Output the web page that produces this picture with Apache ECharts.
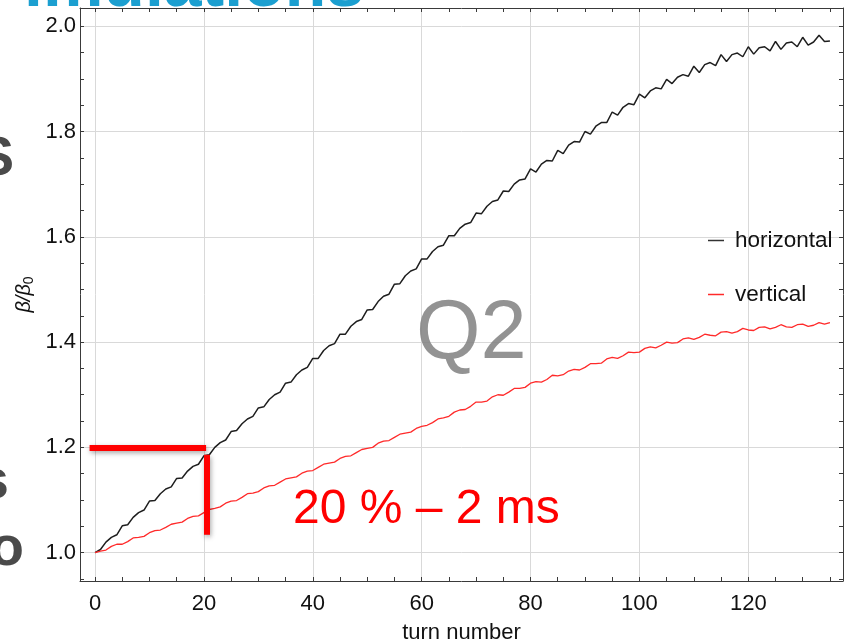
<!DOCTYPE html>
<html lang="en">
<head>
<meta charset="UTF-8">
<title>beta beat</title>
<script src="https://cdn.jsdelivr.net/npm/echarts@6/dist/echarts.min.js"></script>
<style>
  html, body { margin: 0; padding: 0; background: #fff; }
  #chart { width: 844px; height: 644px; }
</style>
</head>
<body>
<div id="chart"></div>
<script>
// beta/beta0 per turn, turn = index (0..135)
var horizontal = [
  1.000, 1.006, 1.020, 1.029, 1.034, 1.051, 1.053, 1.067, 1.076, 1.081,
  1.098, 1.099, 1.112, 1.121, 1.125, 1.141, 1.142, 1.155, 1.164, 1.168,
  1.184, 1.186, 1.200, 1.209, 1.214, 1.230, 1.232, 1.245, 1.254, 1.259,
  1.275, 1.277, 1.291, 1.300, 1.305, 1.322, 1.324, 1.338, 1.347, 1.352,
  1.369, 1.369, 1.384, 1.393, 1.397, 1.415, 1.415, 1.430, 1.439, 1.443,
  1.461, 1.462, 1.477, 1.487, 1.491, 1.510, 1.511, 1.526, 1.535, 1.539,
  1.558, 1.558, 1.572, 1.581, 1.584, 1.602, 1.602, 1.616, 1.624, 1.627,
  1.645, 1.644, 1.658, 1.667, 1.670, 1.687, 1.686, 1.700, 1.708, 1.710,
  1.729, 1.723, 1.738, 1.745, 1.744, 1.764, 1.758, 1.774, 1.781, 1.780,
  1.800, 1.795, 1.810, 1.817, 1.817, 1.837, 1.831, 1.846, 1.853, 1.851,
  1.871, 1.864, 1.877, 1.883, 1.881, 1.899, 1.891, 1.903, 1.908, 1.905,
  1.924, 1.912, 1.927, 1.931, 1.925, 1.946, 1.933, 1.946, 1.949, 1.942,
  1.961, 1.947, 1.959, 1.961, 1.953, 1.971, 1.956, 1.968, 1.970, 1.961,
  1.979, 1.964, 1.970, 1.983, 1.971, 1.972
];
var vertical = [
  1.000, 1.003, 1.005, 1.012, 1.016, 1.016, 1.021, 1.028, 1.029, 1.031,
  1.038, 1.042, 1.043, 1.048, 1.054, 1.056, 1.058, 1.065, 1.069, 1.070,
  1.076, 1.082, 1.084, 1.087, 1.094, 1.098, 1.099, 1.105, 1.112, 1.113,
  1.116, 1.123, 1.127, 1.128, 1.134, 1.140, 1.142, 1.144, 1.151, 1.155,
  1.156, 1.162, 1.168, 1.170, 1.172, 1.179, 1.183, 1.184, 1.190, 1.196,
  1.198, 1.200, 1.208, 1.212, 1.213, 1.219, 1.225, 1.227, 1.229, 1.236,
  1.240, 1.242, 1.247, 1.254, 1.256, 1.259, 1.267, 1.271, 1.272, 1.278,
  1.286, 1.286, 1.288, 1.296, 1.300, 1.299, 1.305, 1.312, 1.312, 1.314,
  1.322, 1.325, 1.324, 1.329, 1.337, 1.336, 1.338, 1.345, 1.348, 1.347,
  1.352, 1.359, 1.359, 1.360, 1.368, 1.371, 1.369, 1.374, 1.381, 1.380,
  1.381, 1.388, 1.391, 1.389, 1.394, 1.400, 1.398, 1.399, 1.406, 1.408,
  1.405, 1.409, 1.415, 1.413, 1.412, 1.419, 1.420, 1.417, 1.420, 1.426,
  1.423, 1.422, 1.428, 1.429, 1.425, 1.428, 1.433, 1.429, 1.428, 1.433,
  1.434, 1.430, 1.432, 1.437, 1.434, 1.437
];

var xMajor = [0, 20, 40, 60, 80, 100, 120];
var xMinor = [0, 5, 10, 15, 20, 25, 30, 35, 40, 45, 50, 55, 60, 65, 70, 75, 80, 85, 90, 95, 100, 105, 110, 115, 120, 125, 130, 135];
var yMajor = [1.0, 1.2, 1.4, 1.6, 1.8, 2.0];
var yMinor = [0.95, 1.0, 1.05, 1.1, 1.15, 1.2, 1.25, 1.3, 1.35, 1.4, 1.45, 1.5, 1.55, 1.6, 1.65, 1.7, 1.75, 1.8, 1.85, 1.9, 1.95, 2.0];

// red bracket marking 20 % at turn 20 (data coords)
var bracketH = [[-1.0, 1.2], [20.4, 1.2]];
var bracketV = [[20.5, 1.186], [20.5, 1.034]];

var FONT = '"Liberation Sans", Arial, sans-serif';
var chart = echarts.init(document.getElementById('chart'));

function toPairs(arr) {
  return arr.map(function (v, i) { return [i, v]; });
}

var xBase = { type: 'value', min: -2.76, max: 137.4, gridIndex: 0 };
var yBase = { type: 'value', min: 0.9462, max: 2.0346, gridIndex: 0 };
var frameLine = { show: true, onZero: false, lineStyle: { color: '#3a3a3a', width: 1 } };
var noLine = { show: false, onZero: false };
var tickStyle = { inside: true, length: 4, lineStyle: { color: '#3a3a3a' } };

var option = {
  animation: false,
  backgroundColor: '#fff',
  textStyle: { fontFamily: FONT },
  grid: { left: 80, top: 8, right: 1, bottom: 63, outerBoundsMode: 'none', containLabel: false },
  legend: {
    orient: 'vertical',
    left: 703,
    top: 224,
    itemGap: 31,
    itemWidth: 16,
    itemHeight: 1.5,
    icon: 'rect',
    textStyle: { fontSize: 22.5, color: '#111', fontFamily: FONT, padding: [0, 0, 0, 6] },
    data: ['horizontal', 'vertical']
  },
  xAxis: [
    Object.assign({}, xBase, {
      position: 'bottom',
      name: 'turn number',
      nameLocation: 'middle',
      nameGap: 41,
      nameTextStyle: { fontSize: 22, color: '#111', fontFamily: FONT },
      axisLine: frameLine,
      axisTick: Object.assign({ customValues: xMajor }, tickStyle),
      axisLabel: { customValues: xMajor, fontSize: 22, color: '#111', margin: 12, fontFamily: FONT },
      splitLine: { show: true, lineStyle: { color: '#d9d9d9', width: 1 } }
    }),
    Object.assign({}, xBase, {
      position: 'bottom',
      axisLine: noLine,
      axisTick: Object.assign({ customValues: xMinor }, tickStyle),
      axisLabel: { show: false },
      splitLine: { show: false }
    }),
    Object.assign({}, xBase, {
      position: 'top',
      axisLine: frameLine,
      axisTick: Object.assign({ customValues: xMinor }, tickStyle),
      axisLabel: { show: false },
      splitLine: { show: false }
    })
  ],
  yAxis: [
    Object.assign({}, yBase, {
      position: 'left',
      name: '{a|β/β}{b|0}',
      nameLocation: 'middle',
      nameGap: 44,
      nameMoveOverlap: false,
      nameRotate: 90,
      nameTextStyle: {
        rich: {
          a: { fontSize: 20, fontStyle: 'italic', color: '#111', fontFamily: FONT },
          b: { fontSize: 14, color: '#111', fontFamily: FONT, padding: [9, 0, 0, 0] }
        }
      },
      axisLine: frameLine,
      axisTick: Object.assign({ customValues: yMajor }, tickStyle),
      axisLabel: {
        customValues: yMajor, fontSize: 22, color: '#111', margin: 4, fontFamily: FONT,
        formatter: function (v) { return v.toFixed(1); }
      },
      splitLine: { show: true, lineStyle: { color: '#d9d9d9', width: 1 } }
    }),
    Object.assign({}, yBase, {
      position: 'left',
      axisLine: noLine,
      axisTick: Object.assign({ customValues: yMinor }, tickStyle),
      axisLabel: { show: false },
      splitLine: { show: false }
    }),
    Object.assign({}, yBase, {
      position: 'right',
      axisLine: frameLine,
      axisTick: Object.assign({ customValues: yMinor }, tickStyle),
      axisLabel: { show: false },
      splitLine: { show: false }
    })
  ],
  series: [
    {
      name: 'horizontal',
      type: 'line',
      data: toPairs(horizontal),
      showSymbol: false,
      symbol: 'none',
      lineStyle: { color: '#1e1e1e', width: 1.5 },
      itemStyle: { color: '#333' },
      z: 3
    },
    {
      name: 'vertical',
      type: 'line',
      data: toPairs(vertical),
      showSymbol: false,
      symbol: 'none',
      lineStyle: { color: '#ff2a2a', width: 1.3 },
      itemStyle: { color: '#ff2a2a' },
      z: 3
    },
    {
      name: 'bracket',
      type: 'line',
      data: [],
      markLine: {
        silent: true,
        symbol: 'none',
        label: { show: false },
        lineStyle: {
          color: '#ff0000', width: 6, type: 'solid',
          shadowBlur: 5, shadowColor: 'rgba(0,0,0,0.35)', shadowOffsetX: 1, shadowOffsetY: 2
        },
        data: [
          [{ coord: bracketH[0] }, { coord: bracketH[1] }],
          [{ coord: bracketV[0] }, { coord: bracketV[1] }]
        ]
      },
      z: 5
    }
  ],
  graphic: [
    {
      type: 'text', x: 24, y: -13, z: 1,
      style: { text: 'imulations', fontSize: 68, fontWeight: 'bold', fontFamily: FONT, fill: '#1b9fd0', verticalAlign: 'middle' }
    },
    {
      type: 'text', x: 14, y: 160, z: 1,
      style: { text: 'S', fontSize: 56, fontWeight: 'bold', fontFamily: FONT, fill: '#4a4a4a', align: 'right', verticalAlign: 'middle' }
    },
    {
      type: 'text', x: 9, y: 483, z: 1,
      style: { text: 's', fontSize: 56, fontWeight: 'bold', fontFamily: FONT, fill: '#4a4a4a', align: 'right', verticalAlign: 'middle' }
    },
    {
      type: 'text', x: 24, y: 550, z: 1,
      style: { text: 'o', fontSize: 56, fontWeight: 'bold', fontFamily: FONT, fill: '#4a4a4a', align: 'right', verticalAlign: 'middle' }
    },
    {
      type: 'text', x: 416, y: 335, z: 10,
      style: { text: 'Q2', fontSize: 83, fontFamily: FONT, fill: 'rgba(128,128,128,0.85)', verticalAlign: 'middle' }
    },
    {
      type: 'text', x: 293, y: 510, z: 10,
      style: { text: '20 % \u2013 2 ms', fontSize: 48, fontFamily: FONT, fill: '#ff0000', verticalAlign: 'middle' }
    }
  ]
};

chart.setOption(option);
</script>
</body>
</html>
